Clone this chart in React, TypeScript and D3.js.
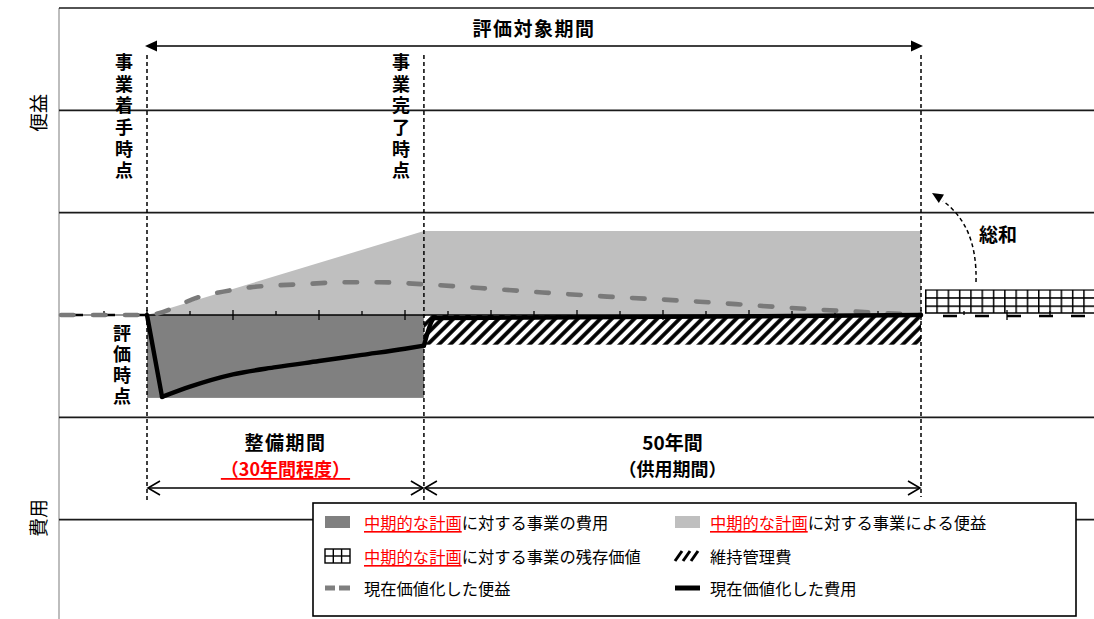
import React from 'react';
import * as d3 from 'd3';

const W = 1094;
const H = 619;
const FONT = '"Noto Sans CJK JP", "Noto Sans", sans-serif';

// 横軸は「期」単位、0 = 事業着手時点
const xDomain = [-2, 22];
const gridValues = [3, 2, 1, -1, -2];
const milestoneT = [0, 6.44, 18]; // 着手, 完了, 評価対象期間の終わり
const tickT = d3.range(-1, 22);

const constructionCost = -0.81;
const benefitLevel = 0.82;
const maintenanceCost = -0.29;
const residualValue = 0.25;

const benefitPvT = [-2, 0, 1.25, 2.4, 3.55, 4.7, 5.4, 6.44, 8.2, 9.2, 10.7, 12.85, 14.25, 15.7, 17.1, 18];
const benefitPv = [0, 0, 0.18, 0.27, 0.3, 0.32, 0.32, 0.3, 0.25, 0.22, 0.18, 0.13, 0.09, 0.05, 0.02, 0];
// 費用の現在価値：着手時の落ち込み／整備期間の曲線／完了時の戻り／供用期間
const costDropT = [0, 0.35];
const costDrop = [0, -0.8];
const costCurveT = [0.35, 1, 2, 3, 4, 5, 6, 6.44];
const costCurve = [-0.8, -0.7, -0.58, -0.51, -0.45, -0.39, -0.33, -0.3];
const costTailT = [6.44, 6.7, 9, 12, 15, 18];
const costTail = [-0.3, -0.03, -0.025, -0.018, -0.01, 0];

const legendRows = [
  [
    { key: 'cost', red: '中期的な計画', text: 'に対する事業の費用' },
    { key: 'benefit', red: '中期的な計画', text: 'に対する事業による便益' },
  ],
  [
    { key: 'residual', red: '中期的な計画', text: 'に対する事業の残存価値' },
    { key: 'maint', red: '', text: '維持管理費' },
  ],
  [
    { key: 'bpv', red: '', text: '現在価値化した便益' },
    { key: 'cpv', red: '', text: '現在価値化した費用' },
  ],
];

const VText = ({ x, y, text, step = 21.7, size = 18 }) => (
  <text x={x} y={y} fontSize={size} fontWeight="bold" letterSpacing={step - size}
    style={{ writingMode: 'vertical-rl', textOrientation: 'upright' }}>{text}</text>
);

const App = () => {
  const x = d3.scaleLinear().domain(xDomain).range([61, 1093]);
  const y = d3.scaleLinear().domain([-3, 3]).range([622, 8]);
  const y0 = y(0);
  const [tS, tC, tE] = milestoneT;

  const benefitArea = d3.area<[number, number]>()
    .x((d) => x(d[0])).y0(y0).y1((d) => y(d[1]))([[tS, 0], [tC, benefitLevel], [tE, benefitLevel]]);

  const pts = (ts: number[], vs: number[]) => ts.map((t, i) => [t, vs[i]] as [number, number]);
  const smooth = d3.line<[number, number]>().x((d) => x(d[0])).y((d) => y(d[1])).curve(d3.curveMonotoneX);
  const straight = d3.line<[number, number]>().x((d) => x(d[0])).y((d) => y(d[1]));
  const bpvPath = smooth(pts(benefitPvT, benefitPv));
  const cpvPaths = [
    straight(pts(costDropT, costDrop)),
    smooth(pts(costCurveT, costCurve)),
    smooth(pts(costTailT, costTail)),
  ];

  const arrowY = 46;
  const spanY = 488;
  const chevron = (tip: number, dir: number) =>
    `M${tip + dir * 12},${spanY - 7}L${tip},${spanY}L${tip + dir * 12},${spanY + 7}`;

  const legX = 313, legY = 503, legW = 763, legH = 113;
  const colIcon = [325, 675];
  const colText = [364, 710];
  const rowY = [522, 556, 588];

  const icon = (key: string, ix: number, iy: number) => {
    switch (key) {
      case 'cost':
        return <rect x={ix} y={iy - 6} width={25} height={12} fill="#808080" />;
      case 'benefit':
        return <rect x={ix} y={iy - 6} width={25} height={12} fill="#bfbfbf" />;
      case 'residual':
        return (
          <g stroke="#000" strokeWidth={1.4} fill="#fff">
            <rect x={ix} y={iy - 7} width={25} height={14} />
            <line x1={ix + 8.3} x2={ix + 8.3} y1={iy - 7} y2={iy + 7} />
            <line x1={ix + 16.6} x2={ix + 16.6} y1={iy - 7} y2={iy + 7} />
            <line x1={ix} x2={ix + 25} y1={iy} y2={iy} />
          </g>
        );
      case 'maint':
        return (
          <g stroke="#000" strokeWidth={3}>
            {[0, 8, 16].map((o) => (
              <line key={o} x1={ix + o} y1={iy + 5} x2={ix + o + 7} y2={iy - 5} />
            ))}
          </g>
        );
      case 'bpv':
        return (
          <g stroke="#7f7f7f" strokeWidth={5}>
            <line x1={ix} x2={ix + 10} y1={iy} y2={iy} />
            <line x1={ix + 14} x2={ix + 25} y1={iy} y2={iy} />
          </g>
        );
      default:
        return <line x1={ix} x2={ix + 25} y1={iy} y2={iy} stroke="#000" strokeWidth={5} />;
    }
  };

  return (
    <svg width={W} height={H} viewBox={`0 0 ${W} ${H}`}
      style={{ position: 'fixed', left: 0, top: 0, background: '#fff' }} fontFamily={FONT}>
      <defs>
        <pattern id="hatch" patternUnits="userSpaceOnUse" width={8} height={8} patternTransform="rotate(45)">
          <rect width={8} height={8} fill="#fff" />
          <line x1={2} x2={2} y1={0} y2={8} stroke="#000" strokeWidth={3.8} />
        </pattern>
        <pattern id="grid" patternUnits="userSpaceOnUse" width={11.3} height={8.2} x={925} y={289}>
          <rect width={11.3} height={8.2} fill="#fff" />
          <path d="M0.7,0V8.2M0,0.7H11.3" stroke="#000" strokeWidth={1.6} fill="none" />
        </pattern>
      </defs>

      {/* 縦軸と目盛線 */}
      <line x1={59} x2={59} y1={8} y2={H} stroke="#bdbdbd" strokeWidth={2} />
      {gridValues.map((g) => (
        <line key={g} x1={59} x2={W} y1={y(g)} y2={y(g)} stroke="#1a1a1a" strokeWidth={1.6} />
      ))}

      {/* 面 */}
      <path d={benefitArea || undefined} fill="#bfbfbf" />
      <rect x={x(tS)} y={y0} width={x(tC) - x(tS)} height={y(constructionCost) - y0} fill="#808080" />
      <rect x={x(tC)} y={y0} width={x(tE) - x(tC)} height={y(maintenanceCost) - y0} fill="url(#hatch)" />
      <rect x={x(tE) + 4} y={y(residualValue)} width={W - x(tE) - 4} height={y0 - y(residualValue) - 2}
        fill="url(#grid)" />
      <line x1={x(tE) + 4} x2={W} y1={y0 - 2} y2={y0 - 2} stroke="#000" strokeWidth={1.4} />

      {/* 横軸 */}
      <line x1={x(tS)} x2={x(tE)} y1={y0} y2={y0} stroke="#000" strokeWidth={1.6} />
      <line x1={59} x2={x(tS)} y1={y0} y2={y0} stroke="#9a9a9a" strokeWidth={2} />
      <line x1={70} x2={x(tS)} y1={y0} y2={y0} stroke="#000" strokeWidth={2.6} strokeDasharray="13,19" />
      <line x1={943} x2={W} y1={y0 + 1} y2={y0 + 1} stroke="#000" strokeWidth={2.6} strokeDasharray="14,18" />
      {tickT.map((t) => (
        <line key={t} x1={x(t)} x2={x(t)} y1={y0 - (t % 2 === 0 ? 5 : 4)} y2={y0 + (t % 2 === 0 ? 5 : 0)}
          stroke="#000" strokeWidth={1.3} />
      ))}

      {/* 現在価値 */}
      <path d={bpvPath || undefined} fill="none" stroke="#7a7a7a" strokeWidth={4.6} strokeDasharray="12.5,19.5"
        strokeLinecap="round" />
      {cpvPaths.map((p, i) => (
        <path key={i} d={p || undefined} fill="none" stroke="#000" strokeWidth={4.4} strokeLinecap="round" />
      ))}

      {/* 縦の破線 */}
      {milestoneT.map((t, i) => (
        <line key={t} x1={x(t)} x2={x(t)} y1={55} y2={i === 2 ? 497 : 502} stroke="#000" strokeWidth={1.5}
          strokeDasharray="4,3" />
      ))}

      {/* 評価対象期間 */}
      <line x1={x(tS) + 8} x2={x(tE) - 8} y1={arrowY} y2={arrowY} stroke="#000" strokeWidth={1.6} />
      <path d={`M${x(tS) - 2},${arrowY}l12,-5.5v11z`} fill="#000" />
      <path d={`M${x(tE) + 2},${arrowY}l-12,-5.5v11z`} fill="#000" />
      <text x={(x(tS) + x(tE)) / 2} y={27} textAnchor="middle" dominantBaseline="central" fontSize={19}
        fontWeight="bold" letterSpacing={1.5}>評価対象期間</text>

      <VText x={124} y={53} text="事業着手時点" />
      <VText x={401} y={53} text="事業完了時点" />
      <VText x={122} y={324} text="評価時点" step={21} />

      <text transform="translate(37,113) rotate(-90)" textAnchor="middle" dominantBaseline="central"
        fontSize={19}>便益</text>
      <text transform="translate(37,518) rotate(-90)" textAnchor="middle" dominantBaseline="central"
        fontSize={19}>費用</text>

      {/* 総和 */}
      <path d="M976,282C977,244 966,218 943,201" fill="none" stroke="#000" strokeWidth={1.5} strokeDasharray="4,3" />
      <path d="M932,193L944,194.5L938.8,203Z" fill="#000" />
      <text x={998} y={233} textAnchor="middle" dominantBaseline="central" fontSize={19} fontWeight="bold">総和</text>

      {/* 期間 */}
      <line x1={x(tS) + 1} x2={x(tC) - 1} y1={spanY} y2={spanY} stroke="#000" strokeWidth={1.6} />
      <line x1={x(tC) + 1} x2={x(tE) - 1} y1={spanY} y2={spanY} stroke="#000" strokeWidth={1.6} />
      {[[x(tS), 1], [x(tC), -1], [x(tC), 1], [x(tE), -1]].map(([tip, dir], i) => (
        <path key={i} d={chevron(tip + dir, dir)} fill="none" stroke="#000" strokeWidth={1.6} />
      ))}
      <text x={(x(tS) + x(tC)) / 2} y={441} textAnchor="middle" dominantBaseline="central" fontSize={19}
        fontWeight="bold" letterSpacing={1.5}>整備期間</text>
      <text x={(x(tS) + x(tC)) / 2} y={468} textAnchor="middle" dominantBaseline="central" fontSize={18}
        fontWeight="bold" fill="#ff0000" textDecoration="underline">（30年間程度）</text>
      <text x={(x(tC) + x(tE)) / 2} y={441} textAnchor="middle" dominantBaseline="central" fontSize={19}
        fontWeight="bold">50年間</text>
      <text x={(x(tC) + x(tE)) / 2} y={468} textAnchor="middle" dominantBaseline="central" fontSize={18}
        fontWeight="bold">（供用期間）</text>

      {/* 凡例 */}
      <rect x={legX} y={legY} width={legW} height={legH} fill="#fff" stroke="#000" strokeWidth={1.6} />
      {legendRows.map((row, r) =>
        row.map((item, c) => (
          <g key={item.key}>
            {icon(item.key, colIcon[c], rowY[r])}
            <text x={colText[c]} y={rowY[r]} dominantBaseline="central" fontSize={16.3}>
              {item.red && <tspan fill="#ff0000" textDecoration="underline">{item.red}</tspan>}
              <tspan>{item.text}</tspan>
            </text>
          </g>
        ))
      )}
    </svg>
  );
};

export default App;
